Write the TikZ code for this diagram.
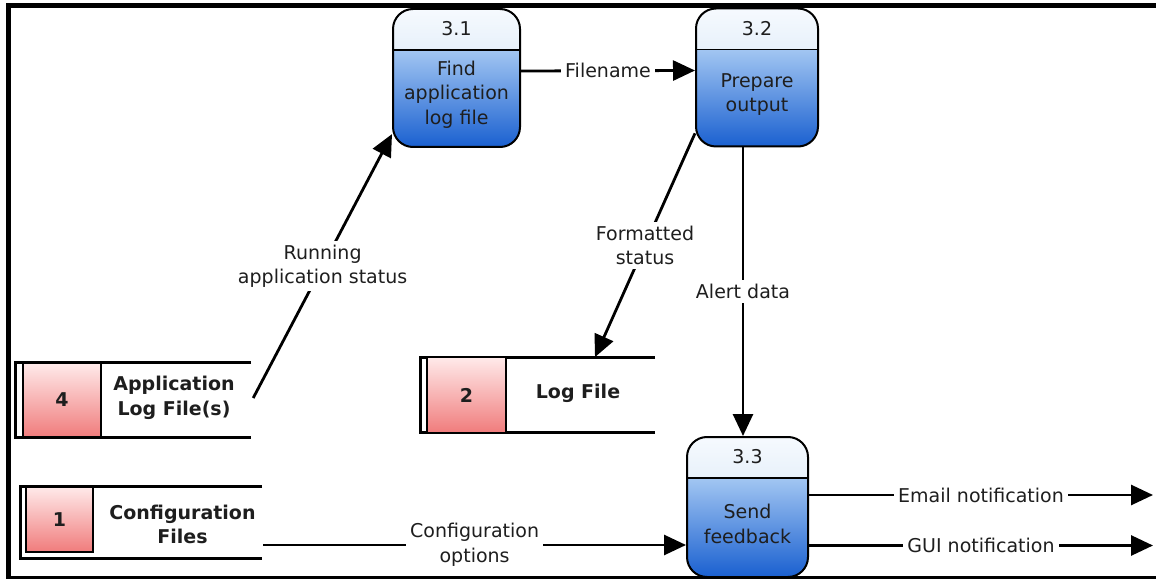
\documentclass[tikz,border=0pt]{standalone}
\usepackage{fontspec}
\setmainfont{DejaVu Sans}
\usetikzlibrary{arrows.meta}
\definecolor{procTopA}{HTML}{F6FAFE}
\definecolor{procTopB}{HTML}{C4DAF2}
\definecolor{procBodyA}{HTML}{A2C6F2}
\definecolor{procBodyB}{HTML}{1A60D0}
\definecolor{storeA}{HTML}{FFEAEA}
\definecolor{storeB}{HTML}{F07C7C}
\definecolor{ink}{HTML}{1E1E1E}

\begin{document}
\begin{tikzpicture}[x=1pt,y=1pt,
  every node/.style={font=\fontsize{19}{24.5}\selectfont, text=ink},
  process/.style={draw=black, line width=2pt, rounded corners=20pt,
    minimum height=138pt, inner sep=0pt,
    path picture={
      \shade[sharp corners, top color=procTopA, bottom color=procTopB]
        (path picture bounding box.north west) rectangle
        ([yshift=-41pt]path picture bounding box.north east);
      \shade[sharp corners, top color=procBodyA, bottom color=procBodyB]
        ([yshift=-41pt]path picture bounding box.north west) rectangle
        (path picture bounding box.south east);
      \draw[sharp corners, line width=1.5pt]
        ([yshift=-41pt]path picture bounding box.north west) --
        ([yshift=-41pt]path picture bounding box.north east);
    }},
  ptext/.style={align=center, inner sep=0pt},
  storebox/.style={inner sep=0pt},
  storeline/.style={line width=3pt, line join=miter},
  storeid/.style={draw=black, line width=2pt, top color=storeA, bottom color=storeB,
    inner sep=0pt, font=\fontsize{19}{24.5}\selectfont\bfseries},
  storetext/.style={align=center, inner sep=0pt, font=\fontsize{19}{24.5}\selectfont\bfseries},
  flow/.style={line width=2.8pt, -{Triangle[length=22pt,width=20pt]}},
  lbl/.style={fill=white, inner sep=4pt, align=center}
]
\useasboundingbox (0,0) rectangle (1156,579);

% processes
\node[process, minimum width=127pt] (p31) at (456.5,501) {};
\node[ptext] (p31n) at ([yshift=-21pt]p31.north) {3.1};
\node[ptext] (p31t) at (456.5,484.5) {Find\\application\\log file};

\node[process, minimum width=122pt] (p32) at (757,501.5) {};
\node[ptext] (p32n) at ([yshift=-21pt]p32.north) {3.2};
\node[ptext] (p32t) at (757,484.5) {Prepare\\output};

\node[process, minimum width=121pt, minimum height=140pt] (p33) at (747.5,72) {};
\node[ptext] (p33n) at ([yshift=-21pt]p33.north) {3.3};
\node[ptext] (p33t) at (747.5,55) {Send\\feedback};

% data stores
\node[storebox, minimum width=235.3pt, minimum height=74pt] (s4) at (133.35,179) {};
\draw[storeline] (s4.north east) -- (s4.north west) -- (s4.south west) -- (s4.south east);
\node[storeid, minimum width=78pt, minimum height=74pt] (s4id) at (62,179) {4};
\node[storetext] (s4t) at (174,181) {Application\\Log File(s)};

\node[storebox, minimum width=241.5pt, minimum height=71.3pt] (s1) at (141.25,56.65) {};
\draw[storeline] (s1.north east) -- (s1.north west) -- (s1.south west) -- (s1.south east);
\node[storeid, minimum width=67pt, minimum height=65pt] (s1id) at (59.5,59.8) {1};
\node[storetext] (s1t) at (182.5,54.5) {Configuration\\Files};

\node[storebox, minimum width=234.5pt, minimum height=75.4pt] (s2) at (537.75,184) {};
\draw[storeline] (s2.north east) -- (s2.north west) -- (s2.south west) -- (s2.south east);
\node[storeid, minimum width=79pt, minimum height=75.4pt] (s2id) at (466.5,184) {2};
\node[storetext] (s2t) at (578,186) {Log File};

% outputs leaving the system
\coordinate (emailEnd) at (1153,84);
\coordinate (guiEnd) at (1153,33.5);

% data flows
\draw[flow] ([xshift=2pt,yshift=2pt]s4.east) -- (p31.221)
  node[lbl, midway] (fRun) {Running\\application status};
\draw[flow] ([yshift=7pt]p31.east) -- ([yshift=7pt]p32.west)
  node[lbl, midway] (fName) {Filename};
\draw[flow] (p32.222.6) -- ([xshift=57.25pt]s2.north)
  node[lbl, midway] (fFmt) {Formatted\\status};
\draw[flow] ([xshift=-4.5pt]p33.north |- p32.south) -- ([xshift=-4.5pt]p33.north)
  node[lbl, midway] (fAlert) {Alert data};
\draw[flow] ([xshift=1pt,yshift=-22.65pt]s1.east) -- ([yshift=-38pt]p33.west)
  node[lbl, midway] (fCfg) {Configuration\\options};
\draw[flow] ([yshift=12pt]p33.east) -- (emailEnd)
  node[lbl, midway] (fMail) {Email notification};
\draw[flow] ([yshift=-38.5pt]p33.east) -- (guiEnd)
  node[lbl, midway] (fGui) {GUI notification};

% page frame
\draw[line width=4.4pt] (1156,573.5) -- (8.3,573.5) -- (8.3,0);
\draw[line width=3pt] (6,1.5) -- (1156,1.5);
\end{tikzpicture}
\end{document}
